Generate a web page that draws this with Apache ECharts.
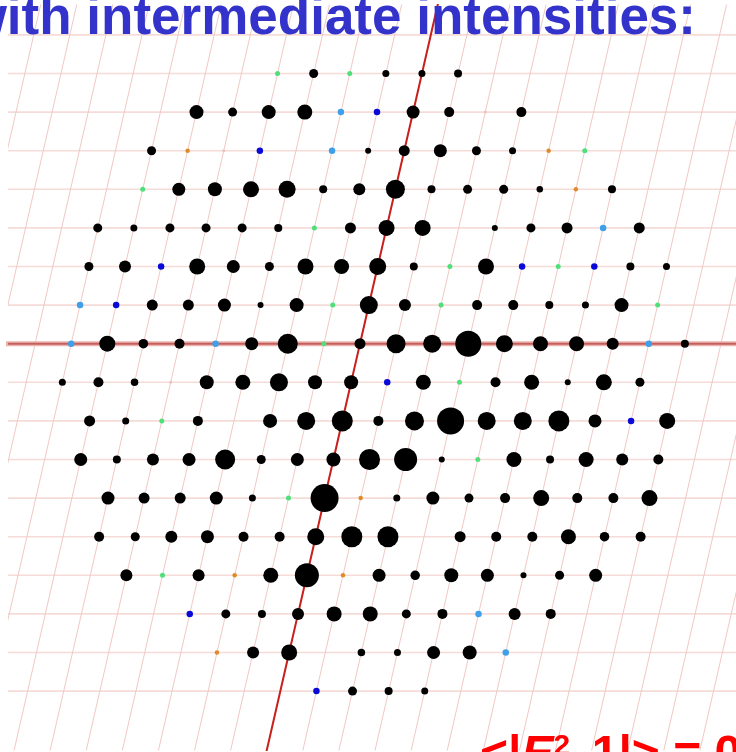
<!DOCTYPE html>
<html>
<head>
<meta charset="utf-8">
<style>
	html, body { margin: 0; padding: 0; background: #fff; overflow: hidden; }
	#chart { width: 736px; height: 752px; }
</style>
<script src="https://cdn.jsdelivr.net/npm/echarts@6/dist/echarts.min.js"></script>
</head>
<body>
<div id="chart"></div>
<script>
// row index k of the reciprocal lattice, top row first
var rowK = [7, 6, 5, 4, 3, 2, 1, 0, -1, -2, -3, -4, -5, -6, -7, -8, -9];
// h index of the first spot on each row
var rowStartH = [-4, -6, -7, -7, -8, -8, -8, -8, -8, -7, -7, -6, -6, -5, -3, -2, 1];
// spot diameter in each row, letters are the weak coloured spots, 0 is no spot
var row7 = ['g', 9, 'g', 7, 7, 8];
var row6 = [14, 9, 14, 15, 'c', 'b', 13, 10, 'p', 10];
var row5 = [9, 'o', 'p', 'b', 0, 'c', 6, 11, 13, 9, 7, 'o', 'g'];
var row4 = ['g', 13, 14, 16, 17, 8, 12, 19, 8, 9, 9, 6.5, 'o', 8];
var row3 = [9, 7, 9, 9, 9, 8, 'g', 11, 16, 16, 0, 6, 9, 11, 'c', 11];
var row2 = [9, 12, 'b', 16, 13, 9, 16, 15, 17, 8, 'g', 16, 'b', 'g', 'b', 8, 7];
var row1 = ['c', 'b', 11, 11, 13, 6, 14, 'g', 18, 12, 'g', 10, 10, 8, 7, 14, 'g'];
var row0 = ['c', 16, 9.5, 10, 'c', 13, 20, 'g', 11, 19, 18, 26, 17, 15, 15, 12, 'c', 8];
var rowM1 = [7, 10, 7.5, 'p', 14, 15, 18, 14, 14, 'b', 15, 'g', 10, 15, 6, 16, 9];
var rowM2 = [11, 7, 'g', 10, 0, 14, 18, 21, 10, 19, 27, 18, 18, 21, 13, 'b', 16];
var rowM3 = [13, 8, 12, 13, 20, 9, 13, 14, 21, 23, 6, 'g', 15, 8, 15, 12, 10];
var rowM4 = [13, 11, 11, 13, 7, 'g', 28, 'o', 7, 13, 9, 10, 16, 10, 10, 16];
var rowM5 = [10, 9, 12, 13, 10, 10, 17, 21, 21, 0, 11, 10, 10, 15, 9.5, 10];
var rowM6 = [12, 'g', 12, 'o', 15, 24, 'o', 13, 9.5, 14, 13, 6, 9, 13];
var rowM7 = ['b', 9, 8, 12, 15, 15, 9, 10, 'c', 12, 10];
var rowM8 = ['o', 12, 16, 0, 7.5, 7, 13, 14, 'c'];
var rowM9 = ['b', 9, 8, 7];
var rows = [row7, row6, row5, row4, row3, row2, row1, row0, rowM1, rowM2, rowM3, rowM4, rowM5, rowM6, rowM7, rowM8, rowM9];

// weak spots: colour and drawn size
var weakColor = { g: '#4fe07a', c: '#3f9fe8', b: '#0a0ad8', o: '#e08a2a', p: '#eec4bc' };
var weakSize = { g: 5, c: 6.5, b: 6.5, o: 4.5, p: 3 };

// the k axis leans over by this many h units per row
var shear = 0.2452;

var gridLines = [];
var rowLines = [];
var spots = [];

for (var k = -9; k <= 8; k++) {
	rowLines.push([[-11, k], [11, k], null]);
}
for (var h = -16; h <= 16; h++) {
	gridLines.push([[h - 11 * shear, -11], [h + 9 * shear, 9], null]);
}

rows.forEach(function(row, r) {
	row.forEach(function(v, i) {
		if (v === 0) {
			return;
		}
		var pos = rowStartH[r] + i + rowK[r] * shear;
		if (typeof v === 'string') {
			spots.push({ value: [pos, rowK[r]], symbolSize: weakSize[v], itemStyle: { color: weakColor[v], opacity: 1 } });
		} else {
			spots.push({ value: [pos, rowK[r]], symbolSize: v, itemStyle: { color: '#000', opacity: 1 } });
		}
	});
});

function flat(list) {
	var out = [];
	list.forEach(function(l) {
		out.push(l[0], l[1], null);
	});
	return out;
}

function lineSeries(data, color, width, z) {
	return {
		type: 'line',
		data: data,
		showSymbol: false,
		symbol: 'none',
		silent: true,
		connectNulls: false,
		clip: true,
		z: z,
		lineStyle: { color: color, width: width },
		animation: false
	};
}

var chart = echarts.init(document.getElementById('chart'), null, { renderer: 'canvas' });
chart.setOption({
	backgroundColor: '#fff',
	animation: false,
	grid: { left: 9, right: 0, top: 5, bottom: 2 },
	xAxis: { type: 'value', min: -9.723, max: 10.416, show: false },
	yAxis: { type: 'value', min: -10.526, max: 8.775, show: false },
	series: [
		lineSeries(flat(rowLines), '#f6dcd8', 1.6, 1),
		lineSeries(flat(gridLines), '#f0c8c4', 1, 2),
		lineSeries([[-11, 0], [11, 0]], '#ecb4b0', 5, 3),
		lineSeries([[-11, 0], [11, 0]], '#c4605c', 2, 3),
		lineSeries([[-11 * shear, -11], [9 * shear, 9]], '#c8201c', 2, 4),
		{
			type: 'scatter',
			data: spots,
			silent: true,
			z: 5
		}
	],
	graphic: [
		{
			type: 'text',
			z: 10,
			x: 696,
			y: -7,
			style: {
				text: 'with intermediate intensities:',
				fill: '#3333cc',
				align: 'right',
				font: 'bold 53px "Liberation Sans"'
			}
		},
		{
			type: 'text',
			z: 10,
			x: 480,
			y: 732,
			style: {
				text: '<|{e|E}{s|2}-{g| }1|> = 0.7',
				fill: '#ff0000',
				font: 'bold 48px "Liberation Sans"',
				rich: {
					e: { font: 'italic bold 48px "Liberation Sans"', fill: '#ff0000' },
					s: { font: 'bold 30px "Liberation Sans"', fill: '#ff0000', verticalAlign: 'top' },
					g: { font: 'bold 20px "Liberation Sans"', fill: '#ff0000' }
				}
			}
		}
	]
});
</script>
</body>
</html>
